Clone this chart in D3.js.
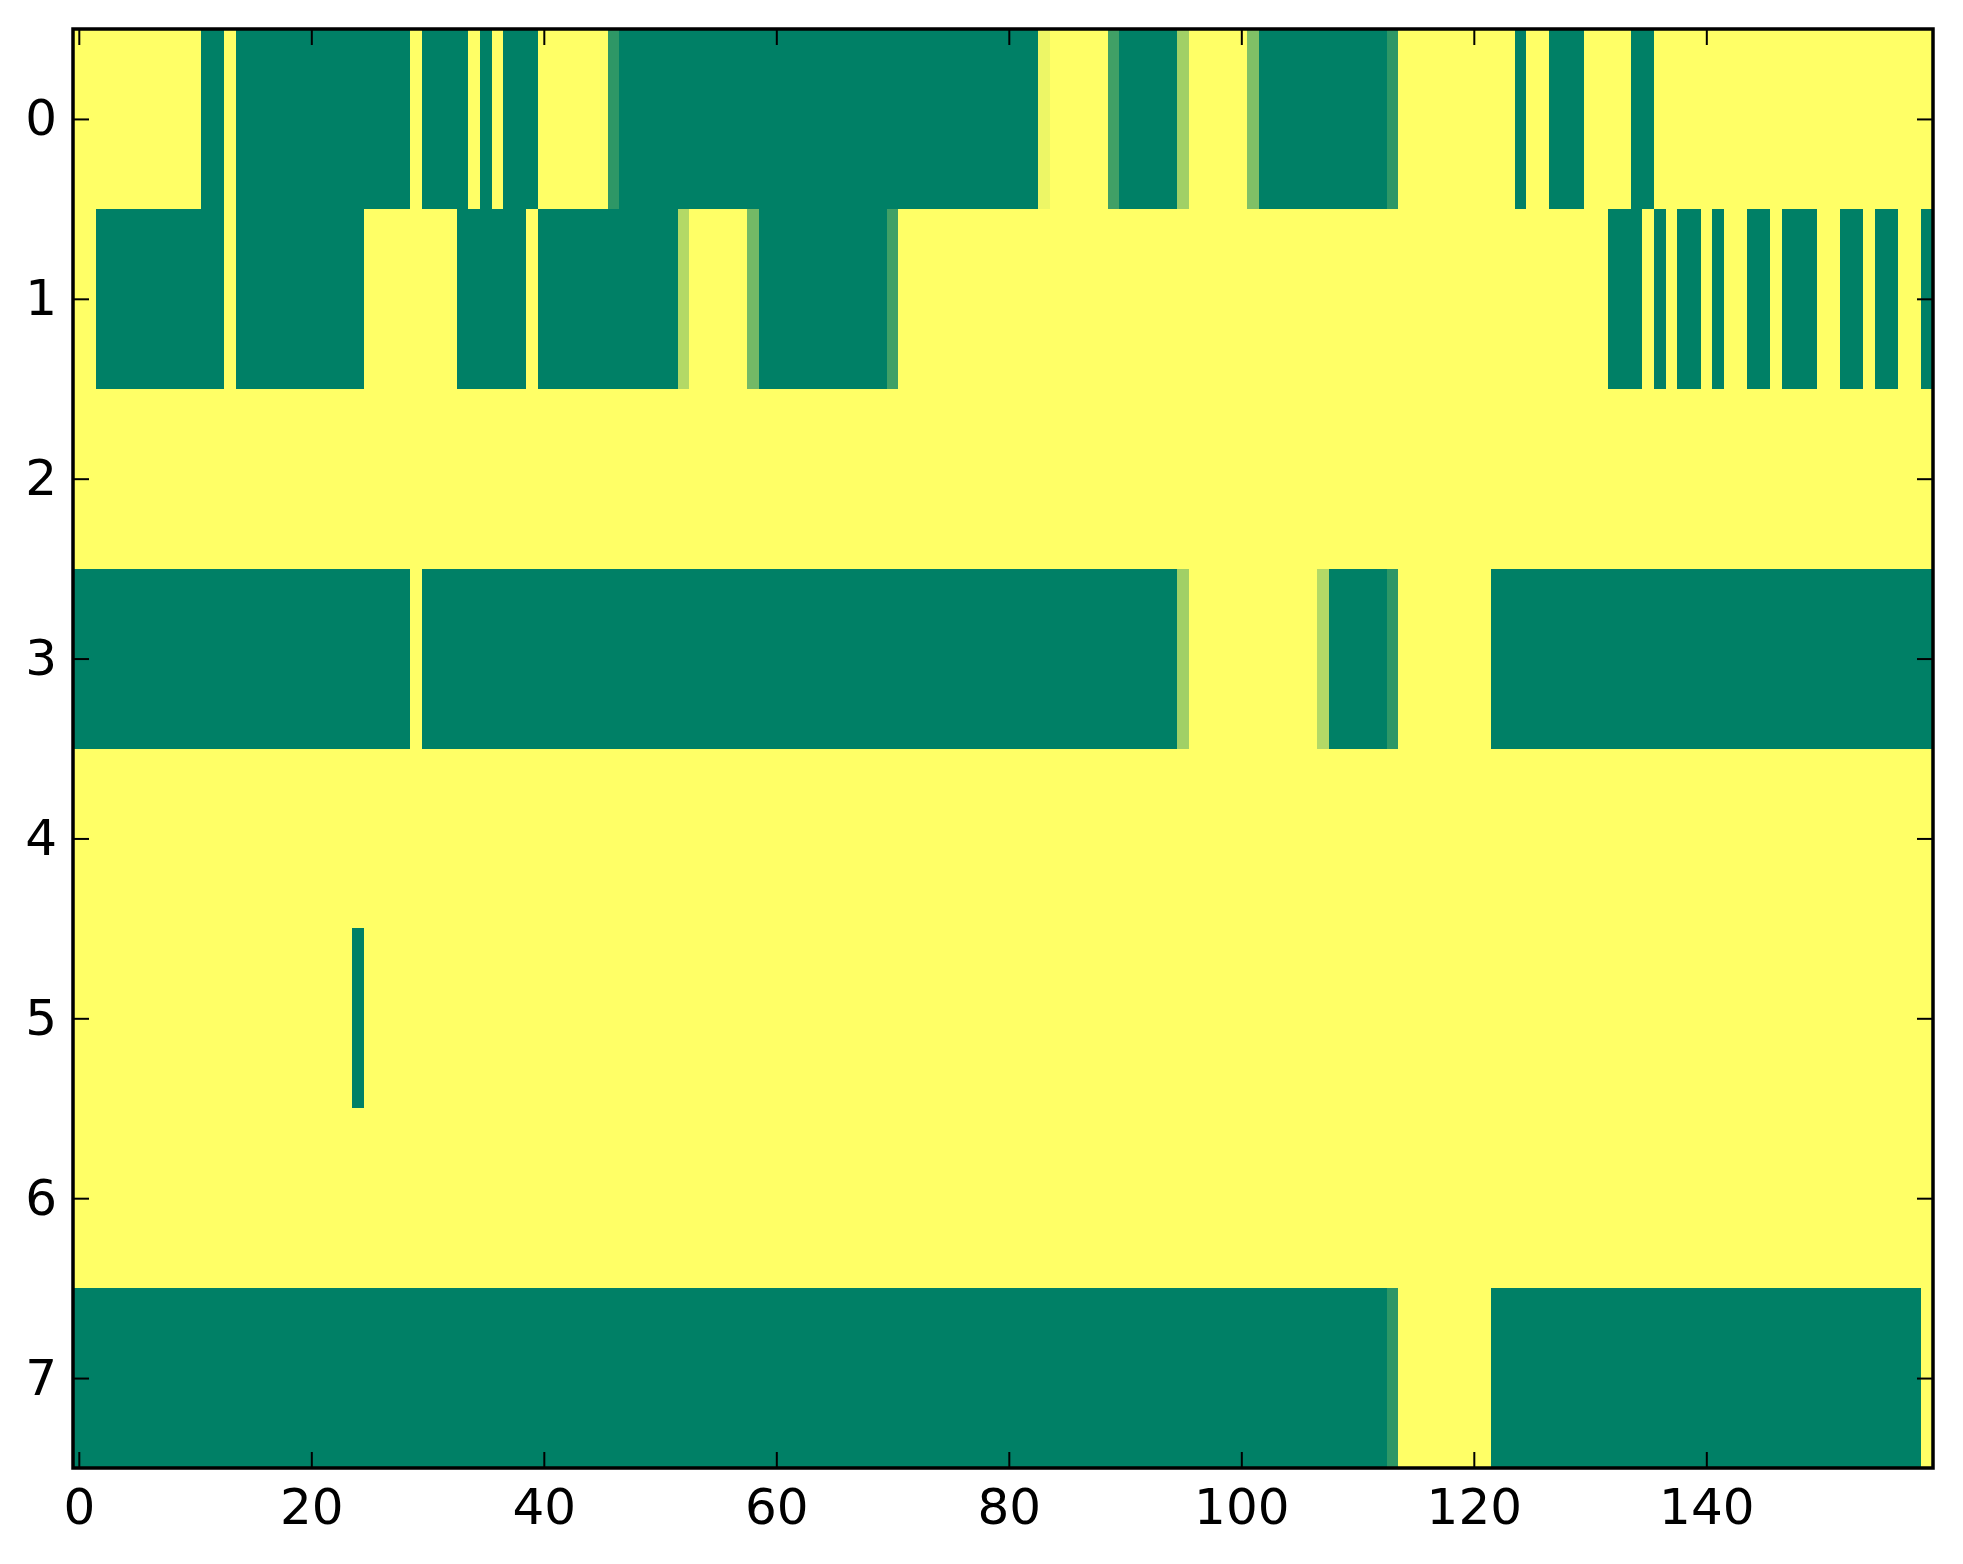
<!DOCTYPE html>
<html>
<head>
<meta charset="utf-8">
<script src="https://cdn.jsdelivr.net/npm/d3@7"></script>
<style>
  body { margin: 0; background: white; }
  .tick text { font-family: "DejaVu Sans", sans-serif; font-size: 50px; fill: black; }
</style>
</head>
<body>
<div id="viz"></div>
<script>
// each row: runs of [count, value]; 1 = yellow, 0 = green, fractions = blended edges
var row0 = [[11,1],[2,0],[1,1],[15,0],[1,1],[4,0],[1,1],[1,0],[1,1],[3,0],[6,1],[1,0.18],[36,0],
            [1,0.93],[5,1],[1,0.25],[5,0],[1,0.63],[5,1],[1,0.5],[11,0],[1,0.18],[10,1],[1,0],
            [2,1],[3,0],[4,1],[2,0],[24,1]];
var row1 = [[2,1],[11,0],[1,1],[11,0],[8,1],[6,0],[1,1],[12,0],[1,0.7],[5,1],[1,0.45],[11,0],
            [1,0.25],[61,1],[3,0],[1,1],[1,0],[1,1],[2,0],[1,1],[1,0],[2,1],[2,0],[1,1],[3,0],
            [2,1],[2,0],[1,1],[2,0],[2,1],[1,0]];
var row2 = [[160,1]];
var row3 = [[29,0],[1,1],[65,0],[1,0.63],[11,1],[1,0.7],[5,0],[1,0.18],[8,1],[38,0]];
var row4 = [[160,1]];
var row5 = [[24,1],[1,0],[135,1]];
var row6 = [[160,1]];
var row7 = [[113,0],[1,0.18],[8,1],[37,0],[1,1]];

var rows = [row0, row1, row2, row3, row4, row5, row6, row7];
var nCols = 160;
var xTicks = [0, 20, 40, 60, 80, 100, 120, 140];
var yTicks = [0, 1, 2, 3, 4, 5, 6, 7];

var width = 1963,
    height = 1564,
    plotL = 73, plotR = 1933,
    plotT = 29, plotB = 1468;

// expand runs into cells
var cells = [];
rows.forEach(function(r, i) {
    var c = 0;
    r.forEach(function(run) {
        for (var k = 0; k < run[0]; k++) {
            cells.push({ row: i, col: c, v: run[1] });
            c++;
        }
    });
});

var xBand = d3.scaleBand().domain(d3.range(nCols)).range([plotL, plotR]);
var yBand = d3.scaleBand().domain(d3.range(rows.length)).range([plotT, plotB]);
var xLin = d3.scaleLinear().domain([-0.5, nCols - 0.5]).range([plotL, plotR]);
var yLin = d3.scaleLinear().domain([-0.5, rows.length - 0.5]).range([plotT, plotB]);

// matplotlib "summer" colormap
var color = d3.scaleLinear().domain([0, 1]).range(["#008066", "#ffff66"]);

var svg = d3.select("#viz").append("svg")
    .attr("width", width)
    .attr("height", height);

svg.append("g")
    .selectAll("rect")
    .data(cells)
    .enter()
    .append("rect")
    .attr("x", function(d) { return xBand(d.col); })
    .attr("y", function(d) { return yBand(d.row); })
    .attr("width", xBand.bandwidth() + 0.5)
    .attr("height", yBand.bandwidth() + 0.5)
    .attr("shape-rendering", "crispEdges")
    .style("fill", function(d) { return color(d.v); });

function styleAxis(g) {
    g.select(".domain").remove();
    g.selectAll(".tick line").attr("stroke", "black").attr("stroke-width", 2);
}

svg.append("g")
    .attr("transform", "translate(0," + plotB + ")")
    .call(d3.axisBottom(xLin).tickValues(xTicks).tickSize(-16).tickPadding(20))
    .call(styleAxis);

svg.append("g")
    .attr("transform", "translate(0," + plotT + ")")
    .call(d3.axisTop(xLin).tickValues(xTicks).tickSize(-16).tickFormat(""))
    .call(styleAxis);

svg.append("g")
    .attr("transform", "translate(" + plotL + ",0)")
    .call(d3.axisLeft(yLin).tickValues(yTicks).tickSize(-16).tickPadding(16))
    .call(styleAxis);

svg.append("g")
    .attr("transform", "translate(" + plotR + ",0)")
    .call(d3.axisRight(yLin).tickValues(yTicks).tickSize(-16).tickFormat(""))
    .call(styleAxis);

svg.selectAll(".tick text").attr("font-family", null).attr("font-size", null);

// frame
svg.append("rect")
    .attr("x", plotL)
    .attr("y", plotT)
    .attr("width", plotR - plotL)
    .attr("height", plotB - plotT)
    .style("fill", "none")
    .style("stroke", "black")
    .style("stroke-width", 3.5);
</script>
</body>
</html>
